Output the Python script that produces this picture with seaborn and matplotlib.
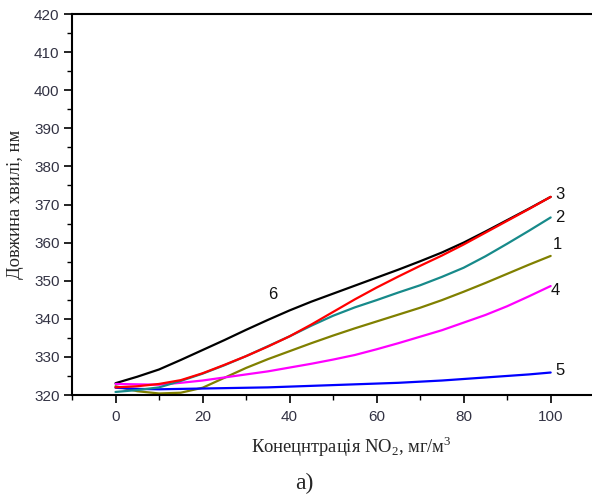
import matplotlib
matplotlib.use("Agg")
import matplotlib.pyplot as plt
import seaborn as sns
import pandas as pd
from matplotlib.ticker import MultipleLocator

conc = [0, 5, 10, 15, 20, 25, 30, 35, 40, 45, 50,
        55, 60, 65, 70, 75, 80, 85, 90, 95, 100]
curve1 = [322.3, 321.0, 320.4, 320.6, 321.9, 324.5, 327.1, 329.4, 331.5, 333.6, 335.6,
          337.5, 339.3, 341.1, 342.9, 344.9, 347.1, 349.4, 351.8, 354.2, 356.5]
curve2 = [320.8, 321.3, 322.0, 323.7, 325.6, 327.8, 330.2, 332.8, 335.4, 338.2, 340.8,
          343.0, 344.9, 346.9, 348.8, 351.0, 353.4, 356.4, 359.7, 363.1, 366.6]
curve3 = [322.0, 322.3, 322.9, 323.9, 325.7, 327.9, 330.2, 332.7, 335.4, 338.5, 341.8,
          345.1, 348.2, 351.1, 353.9, 356.6, 359.5, 362.6, 365.7, 368.8, 372.0]
curve4 = [322.9, 322.8, 322.7, 323.2, 323.8, 324.6, 325.4, 326.2, 327.2, 328.2, 329.3,
          330.5, 332.0, 333.6, 335.3, 337.0, 339.0, 341.0, 343.3, 345.9, 348.6]
curve5 = [321.9, 321.6, 321.5, 321.6, 321.7, 321.8, 321.9, 322.0, 322.2, 322.4, 322.6,
          322.8, 323.0, 323.2, 323.5, 323.8, 324.2, 324.6, 325.0, 325.4, 325.9]
curve6 = [323.1, 324.8, 326.7, 329.2, 331.8, 334.4, 337.1, 339.7, 342.2, 344.5, 346.6,
          348.7, 350.8, 352.9, 355.1, 357.4, 360.0, 362.9, 365.9, 368.9, 372.0]

series_names = ["1", "2", "3", "4", "5", "6"]
series_values = [curve1, curve2, curve3, curve4, curve5, curve6]
colors = {"1": "#808000", "2": "#178a8a", "3": "#ff0000",
          "4": "#ff00ff", "5": "#0000ff", "6": "#000000"}
draw_order = ["6", "1", "4", "5", "2", "3"]

rows = []
for name, vals in zip(series_names, series_values):
    for x, v in zip(conc, vals):
        rows.append({"conc": x, "wl": v, "curve": name})
df = pd.DataFrame(rows)

sns.set_style("white")
plt.rcParams["font.family"] = ["Liberation Sans", "DejaVu Sans"]
plt.rcParams["mathtext.fontset"] = "custom"
plt.rcParams["mathtext.rm"] = "Liberation Serif"

fig = plt.figure(figsize=(5.92, 4.98), dpi=100)
ax = fig.add_axes([72 / 592, 1 - 395 / 498, 1 - 72 / 592, (395 - 14) / 498])

for name in draw_order:
    sub = df[df["curve"] == name]
    sns.lineplot(data=sub, x="conc", y="wl", color=colors[name], lw=1.6,
                 ax=ax, legend=False, sort=True)

ax.set_xlim(-10, 109.5)
ax.set_ylim(320, 420)
ax.xaxis.set_major_locator(MultipleLocator(20))
ax.xaxis.set_minor_locator(MultipleLocator(10))
ax.yaxis.set_major_locator(MultipleLocator(10))
ax.yaxis.set_minor_locator(MultipleLocator(5))

tick_color = "#333344"
ax.tick_params(axis="both", which="major", direction="out", length=6, width=1.2,
               colors="black", labelcolor=tick_color, labelsize=11,
               bottom=True, left=True, top=False, right=False)
ax.tick_params(axis="both", which="minor", direction="out", length=3.5, width=1.0,
               colors="black", bottom=True, left=True, top=False, right=False)
ax.tick_params(axis="x", which="major", pad=5)
ax.tick_params(axis="y", which="major", pad=3)

for side in ["left", "bottom", "top"]:
    ax.spines[side].set_visible(True)
    ax.spines[side].set_color("black")
    ax.spines[side].set_linewidth(1.5)
ax.spines["right"].set_visible(False)

ax.set_xlabel(r"Конецнтрація NO$_\mathregular{2}$, мг/м$^\mathregular{3}$",
              family="Liberation Serif", fontsize=13.3)
ax.xaxis.set_label_coords((351 - 72) / 520, -(447 - 395) / 381)
ax.xaxis.label.set_va("center")
ax.set_ylabel("Довжина хвилі, нм", family="Liberation Serif", fontsize=13.3, labelpad=7)

label_pos = {"3": (101, 372.5), "2": (101, 366.5), "1": (100.5, 359.5),
             "4": (100, 347.5), "5": (101, 326.3), "6": (35, 346.5)}
for name, (lx, ly) in label_pos.items():
    ax.text(lx, ly, name, fontsize=12, color="#111111", ha="left", va="center")

fig.text(304 / 592, 1 - 483 / 498, "а)", family="Liberation Serif", fontsize=17,
         ha="center", va="center")

fig.savefig("out.png", dpi=100)
